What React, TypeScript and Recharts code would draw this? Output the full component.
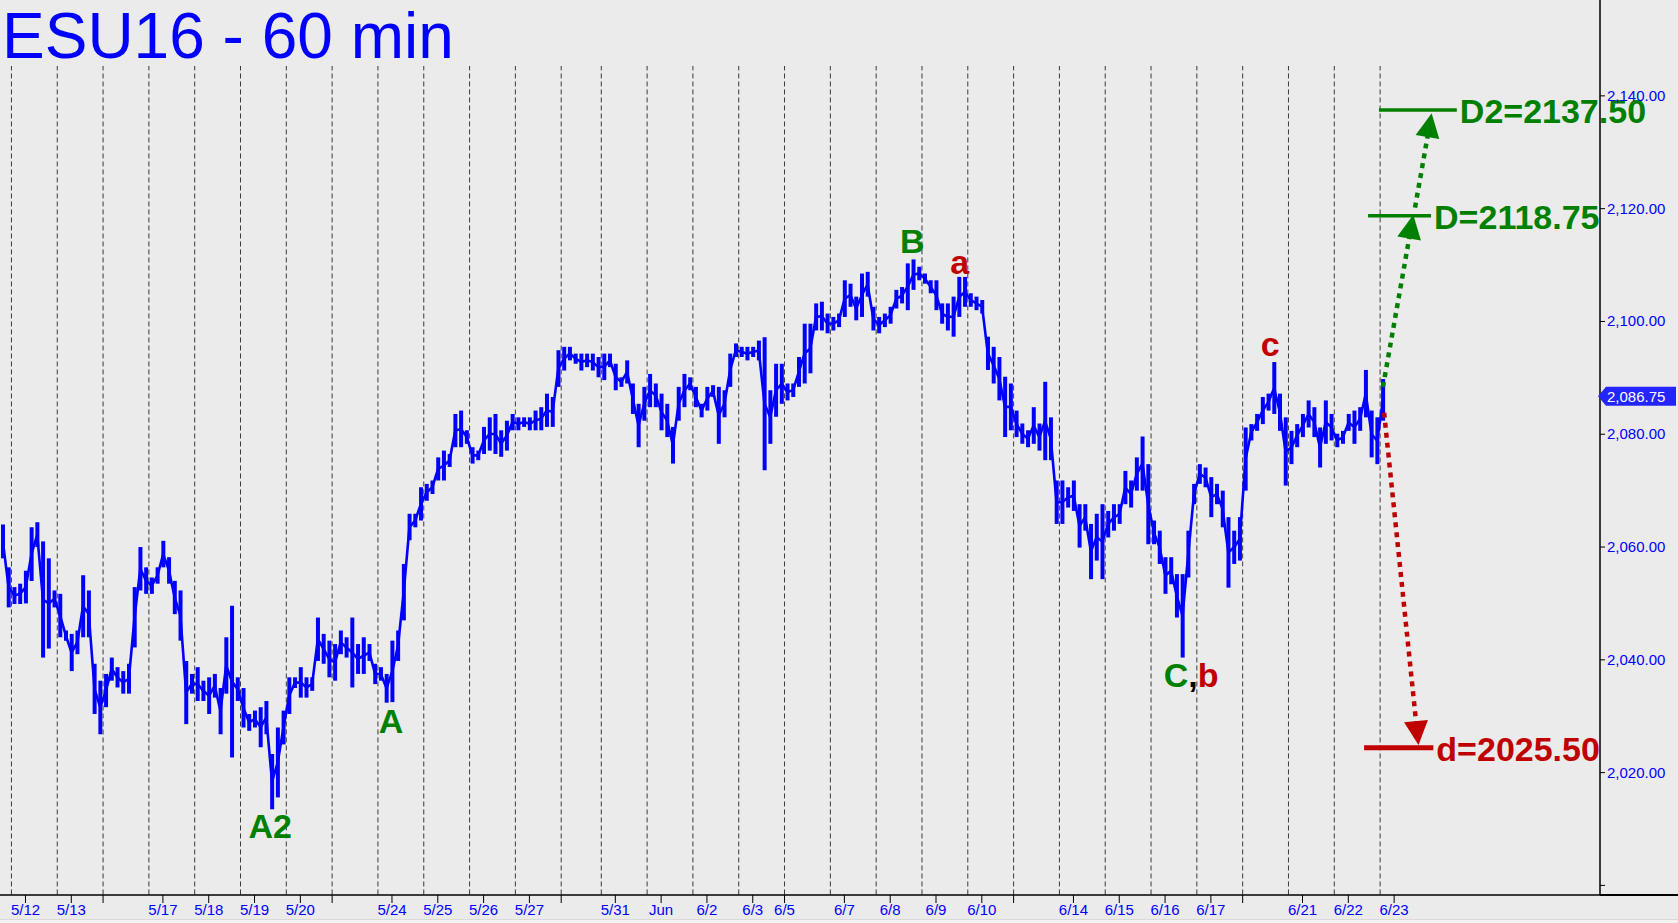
import React from 'react';
import { ComposedChart, Bar, Line, XAxis, YAxis, ReferenceLine, ReferenceDot } from 'recharts';

type Hl = [number, number];

// hourly lows/highs per session, sampled ~8 per session
const may11: Hl[] = [[2058, 2064], [2049.3, 2056.4]];
const may12: Hl[] = [[2049.9, 2052.9], [2049.9, 2053.5], [2050, 2055.8], [2054, 2063.5], [2060, 2064.4], [2040.4, 2061], [2042, 2058], [2049.3, 2052.3]];
const may13: Hl[] = [[2044, 2051.7], [2043.4, 2045.2], [2038, 2044.6], [2041, 2045.2], [2044, 2055], [2044, 2052.3], [2030.4, 2039.3], [2026.8, 2036.3]];
const may16: Hl[] = [[2031.6, 2037.5], [2036.3, 2040.4], [2035.1, 2038.7], [2034, 2038], [2034, 2039.3], [2042.2, 2052.9], [2052.3, 2060], [2051.7, 2056.4]];
const may17: Hl[] = [[2051.7, 2054.6], [2053.5, 2056.4], [2056.4, 2061.1], [2053.5, 2058.2], [2048.1, 2054], [2043.4, 2052.3], [2028.6, 2039.8], [2034, 2037.5]];
const may18: Hl[] = [[2032.7, 2038.7], [2032.7, 2036.3], [2030.4, 2036.9], [2033.3, 2037.5], [2026.8, 2035], [2034, 2044], [2022.7, 2049.6], [2032.7, 2036.9]];
const may19: Hl[] = [[2028, 2035], [2027.4, 2030.4], [2028, 2031], [2024.5, 2031.6], [2026.8, 2032.7], [2013.5, 2023.3], [2015.6, 2028], [2025, 2031]];
const may20: Hl[] = [[2030.4, 2036.9], [2035, 2036.9], [2033.3, 2038.7], [2033.3, 2036.9], [2034.5, 2036.9], [2039.8, 2047.5], [2039.3, 2044.6], [2036.9, 2043.4]];
const may23: Hl[] = [[2036.3, 2042.8], [2041, 2045.2], [2040.4, 2044], [2035.1, 2047.5], [2037.5, 2042.8], [2037.5, 2044], [2039.8, 2042.8], [2035.7, 2039.3]];
const may24: Hl[] = [[2036.3, 2038.7], [2032.4, 2037.5], [2032.5, 2043.4], [2039.8, 2045.2], [2047, 2057], [2061.2, 2065.9], [2063.5, 2065.9], [2064.7, 2070.6]];
const may25: Hl[] = [[2068.2, 2071.2], [2069.4, 2071.8], [2071.8, 2075.9], [2071.8, 2077.1], [2074.2, 2076.5], [2077.7, 2083.6], [2077.7, 2084.2], [2078.3, 2080.7]];
const may26: Hl[] = [[2074.8, 2077.7], [2075.4, 2077.1], [2076.5, 2081.3], [2077.1, 2083], [2076.5, 2083.6], [2076, 2080.7], [2077.1, 2082.4], [2080.7, 2083.6]];
const may27: Hl[] = [[2080.7, 2083], [2081.3, 2083], [2080.7, 2083], [2080.7, 2084.2], [2080.7, 2084.8], [2081.3, 2087.2], [2081.3, 2086.6], [2088.4, 2094.9]];
const may30: Hl[] = [[2091.3, 2095.5], [2093.1, 2095.5], [2092.5, 2094.3], [2091.3, 2094.3], [2091.9, 2094.3], [2091.3, 2094.3], [2090.1, 2093.7]];
const may31: Hl[] = [[2089.6, 2094.3], [2091.9, 2094.3], [2087.8, 2092.5], [2088.4, 2090.1], [2089, 2093.1], [2083.6, 2089], [2077.7, 2085.4], [2082.4, 2088.4]];
const jun1: Hl[] = [[2084.8, 2090.7], [2084.8, 2089], [2080.7, 2087.2], [2079.5, 2085.4], [2074.8, 2081.3], [2082.4, 2088.4], [2084.8, 2090.7], [2087.8, 2090.1]];
const jun2: Hl[] = [[2084.8, 2088.4], [2083, 2085.4], [2084.2, 2088.4], [2086.6, 2088.7], [2078.3, 2088.4], [2083, 2087.8], [2088.4, 2094.3], [2093.7, 2096.1]];
const jun3: Hl[] = [[2093.7, 2095.5], [2093.1, 2095.5], [2093.7, 2095.5], [2093.1, 2096.6], [2073.6, 2097.2], [2078.3, 2087.8], [2083.1, 2092.5], [2085.4, 2092.5]];
const jun6: Hl[] = [[2086, 2089], [2086.6, 2089], [2088.4, 2093.7], [2089, 2099.6], [2090.8, 2099.6], [2098.4, 2103.2], [2098.4, 2103.5], [2097.9, 2101.4]];
const jun7: Hl[] = [[2098.4, 2100.8], [2099, 2101.4], [2100.8, 2107.3], [2102.6, 2106.7], [2100.2, 2104.4], [2100.8, 2108.5], [2104.4, 2108.8], [2098.4, 2102.6]];
const jun8: Hl[] = [[2097.9, 2100.8], [2099, 2101.4], [2099.6, 2102.6], [2102.3, 2105.6], [2103.2, 2106.1], [2102, 2110.3], [2105.6, 2111], [2107.3, 2109.7]];
const jun9: Hl[] = [[2106.7, 2108.5], [2105, 2107.3], [2102, 2107.3], [2099.6, 2103.2], [2098.4, 2103.2], [2097.3, 2104.4], [2100.8, 2107.9], [2102.6, 2107.9]];
const jun10: Hl[] = [[2102.6, 2105], [2102, 2104.4], [2101.4, 2103.8], [2091.4, 2097.3], [2089, 2095.5], [2086, 2093.7], [2079.5, 2090.2], [2080.7, 2089]];
const jun13: Hl[] = [[2079.5, 2084.2], [2078.3, 2081.9], [2077.7, 2080.7], [2078.3, 2084.8], [2077.1, 2081.9], [2075.4, 2089.3], [2075.4, 2083], [2064.1, 2071.8]];
const jun14: Hl[] = [[2064.1, 2071.8], [2067, 2070.6], [2066.4, 2071.8], [2059.9, 2067.6], [2062.9, 2067.6], [2054.3, 2064.1], [2057.6, 2065.9], [2054.3, 2067.6]];
const jun15: Hl[] = [[2061.7, 2066.4], [2062.9, 2067.6], [2064.1, 2067.6], [2067.6, 2073.5], [2067, 2071.8], [2070, 2075.9], [2070, 2079.6], [2060.5, 2074.7]];
const jun16: Hl[] = [[2060.5, 2064.7], [2057, 2062.9], [2051.7, 2058.2], [2053.4, 2058.2], [2047.5, 2055.2], [2040.4, 2055.2], [2054.6, 2062.9], [2067.6, 2071.2]];
const jun17: Hl[] = [[2071.2, 2074.7], [2070.6, 2074.1], [2065.3, 2072.4], [2067.6, 2071.2], [2063.5, 2070], [2052.8, 2065.3], [2057, 2062.9], [2057.6, 2065.3]];
const jun20: Hl[] = [[2070, 2081.2], [2078.9, 2081.8], [2080.6, 2083.6], [2081.8, 2086.6], [2084.2, 2087.2], [2083.6, 2092.8], [2080.6, 2087.2], [2070.9, 2083]];
const jun21: Hl[] = [[2074.7, 2080.6], [2077.7, 2081.8], [2079.5, 2083.6], [2081.2, 2086], [2079.5, 2084.8], [2074.1, 2081.2], [2078.3, 2086], [2078.9, 2083.6]];
const jun22: Hl[] = [[2077.7, 2080.1], [2078.3, 2080.6], [2080.6, 2083.6], [2078.3, 2084.2], [2080.6, 2084.8], [2083, 2091.4], [2075.9, 2084.2], [2074.7, 2083]];
const jun23: Hl[] = [[2082.4, 2089.8]];

const sessionBars: Hl[][] = [
  may11, may12, may13, may16, may17, may18, may19, may20, may23, may24, may25, may26, may27, may30,
  may31, jun1, jun2, jun3, jun6, jun7, jun8, jun9, jun10, jun13, jun14, jun15, jun16, jun17, jun20,
  jun21, jun22, jun23,
];
const sessionLabels = [
  '', '5/12', '5/13', '', '5/17', '5/18', '5/19', '5/20', '', '5/24', '5/25', '5/26', '5/27', '',
  '5/31', 'Jun', '6/2', '6/3', '6/5', '6/7', '6/8', '6/9', '6/10', '', '6/14', '6/15', '6/16', '6/17', '',
  '6/21', '6/22', '6/23',
];
const labelLead: Record<string, number> = { '6/5': 0 };

const priceTicks = [2000, 2020, 2040, 2060, 2080, 2100, 2120, 2140];
const lastPrice = 2086.75;

const waveLabels = [
  { parts: [['A2', 'g']], x: 47.2, y: 2008.4 },
  { parts: [['A', 'g']], x: 68.3, y: 2027.0 },
  { parts: [['B', 'g']], x: 159.3, y: 2112.1 },
  { parts: [['a', 'r']], x: 167.6, y: 2108.5 },
  { parts: [['C', 'g'], [',', 'k'], ['b', 'r']], x: 208.0, y: 2035.2 },
  { parts: [['c', 'r']], x: 221.8, y: 2093.8 },
];

const targetTexts = ['D2=2137.50', 'D=2118.75', 'd=2025.50'];
const targetLevels = [2137.5, 2118.75, 2024.4];
const targetSpans: [number, number][] = [[240.8, 254.4], [238.9, 249.9], [238.2, 250.3]];
const targetColors = ['g', 'g', 'r'];

const arrows = [
  { from: [241.5, 2088.4], to: [246.8, 2118.9], c: 'g' },
  { from: [247.1, 2120.2], to: [250.0, 2136.9], c: 'g' },
  { from: [241.7, 2083.8], to: [247.7, 2024.9], c: 'r' },
];

const BLUE = '#0000ff';
const GREEN = '#008000';
const RED = '#c00000';
const colorOf: Record<string, string> = { g: GREEN, r: RED, k: '#000000' };
const FONT = '"Liberation Sans", Arial, Helvetica, sans-serif';

const X_MAX = 279.4;
const Y_MIN = 1998.3;
const Y_MAX = 2157;
const GRID_TOP = 2145.3;

const starts: number[] = [];
let count = 0;
sessionBars.forEach((s) => {
  starts.push(count);
  count += s.length;
});

const data = sessionBars.flat().map(([lo, hi], i) => ({ x: i + 0.5, range: [lo, hi], mid: (lo + hi) / 2 }));

const xTicks: { value: number; label: string }[] = [];
sessionLabels.forEach((label, i) => {
  if (i === 0) return;
  const lead = label === '' ? 0 : labelLead[label] ?? 2.45;
  xTicks.push({ value: starts[i] + lead, label });
});

const fmt = (v: number) => v.toLocaleString('en-US', { minimumFractionDigits: 2, maximumFractionDigits: 2 });

function XTick(props: any) {
  const { x, y, payload } = props;
  const t = xTicks.find((k) => Math.abs(k.value - payload.value) < 1e-6);
  if (!t || !t.label) return <g />;
  return (
    <text x={x} y={y + 10} textAnchor="middle" fill={BLUE} fontSize={15} fontFamily={FONT}>
      {t.label}
    </text>
  );
}

function YTick(props: any) {
  const { x, y, payload } = props;
  if (payload.value === 2000) return <g />;
  return (
    <text x={x} y={y + 5} textAnchor="start" fill={BLUE} fontSize={15} fontFamily={FONT}>
      {fmt(payload.value)}
    </text>
  );
}

function arrowShape(color: string) {
  return (p: any) => {
    const { x1, y1, x2, y2 } = p;
    const dx = x2 - x1;
    const dy = y2 - y1;
    const len = Math.sqrt(dx * dx + dy * dy) || 1;
    const ux = dx / len;
    const uy = dy / len;
    const head = 24;
    const half = 12;
    const bx = x2 - ux * head;
    const by = y2 - uy * head;
    return (
      <g>
        <line x1={x1} y1={y1} x2={x2 - ux * (head - 2)} y2={y2 - uy * (head - 2)} stroke={color} strokeWidth={4.5} strokeDasharray="5 5" />
        <polygon
          points={`${x2},${y2} ${bx - uy * half},${by + ux * half} ${bx + uy * half},${by - ux * half}`}
          fill={color}
        />
      </g>
    );
  };
}

function targetShape(color: string, text: string, width: number) {
  return (p: any) => {
    const { x1, y1, x2 } = p;
    return (
      <g>
        <line x1={x1} y1={y1} x2={x2} y2={y1} stroke={color} strokeWidth={width} />
        <text x={x2 + 3} y={y1 + 13} fill={color} fontSize={34} fontWeight="bold" fontFamily={FONT}>
          {text}
        </text>
      </g>
    );
  };
}

function PriceTag(p: any) {
  const { cx, cy } = p;
  return (
    <g>
      <polygon
        points={`${cx - 2},${cy} ${cx + 6},${cy - 9.5} ${cx + 76},${cy - 9.5} ${cx + 76},${cy + 9.5} ${cx + 6},${cy + 9.5}`}
        fill="#2424ff"
      />
      <text x={cx + 7} y={cy + 5.5} fill="#ffffff" fontSize={15} fontFamily={FONT}>
        {fmt(lastPrice)}
      </text>
    </g>
  );
}

export default function App() {
  return (
    <div style={{ position: 'absolute', left: 0, top: 0, width: 1678, height: 923, background: '#ebebeb', overflow: 'hidden' }}>
      <ComposedChart
        width={1678}
        height={923}
        data={data}
        margin={{ top: 0, right: 0, bottom: 0, left: 0 }}
        style={{ fontFamily: FONT }}
      >
        <XAxis
          dataKey="x"
          type="number"
          domain={[0, X_MAX]}
          ticks={xTicks.map((t) => t.value)}
          interval={0}
          height={28}
          tickSize={8}
          tickMargin={2}
          axisLine={{ stroke: '#000', strokeWidth: 1.5 }}
          tickLine={{ stroke: '#000' }}
          tick={<XTick />}
          allowDataOverflow
        />
        <YAxis
          orientation="right"
          type="number"
          domain={[Y_MIN, Y_MAX]}
          ticks={priceTicks}
          interval={0}
          width={78}
          tickSize={5}
          tickMargin={2}
          axisLine={{ stroke: '#000', strokeWidth: 1.5 }}
          tickLine={{ stroke: '#000' }}
          tick={<YTick />}
          allowDataOverflow
        />
        {starts.slice(1).map((s) => (
          <ReferenceLine
            key={`sep-${s}`}
            segment={[{ x: s, y: Y_MIN + 0.1 }, { x: s, y: GRID_TOP }]}
            stroke="#3a3a3a"
            strokeWidth={1}
            strokeDasharray="5 3"
            ifOverflow="visible"
          />
        ))}
        <Bar dataKey="range" fill={BLUE} barSize={4} isAnimationActive={false} />
        <Line dataKey="mid" type="linear" stroke={BLUE} strokeWidth={2.6} dot={false} activeDot={false} isAnimationActive={false} />
        {targetTexts.map((t, i) => (
          <ReferenceLine
            key={t}
            segment={[{ x: targetSpans[i][0], y: targetLevels[i] }, { x: targetSpans[i][1], y: targetLevels[i] }]}
            ifOverflow="visible"
            shape={targetShape(colorOf[targetColors[i]], t, targetColors[i] === 'r' ? 5 : 3.5)}
          />
        ))}
        {arrows.map((a, i) => (
          <ReferenceLine
            key={`arrow-${i}`}
            segment={[{ x: a.from[0], y: a.from[1] }, { x: a.to[0], y: a.to[1] }]}
            ifOverflow="visible"
            shape={arrowShape(colorOf[a.c])}
          />
        ))}
        {waveLabels.map((w, i) => (
          <ReferenceDot
            key={`wave-${i}`}
            x={w.x}
            y={w.y}
            r={0}
            ifOverflow="visible"
            shape={(p: any) => (
              <text x={p.cx} y={p.cy} textAnchor="middle" fontSize={34} fontWeight="bold" fontFamily={FONT}>
                {w.parts.map(([s, c], j) => (
                  <tspan key={j} fill={colorOf[c]}>
                    {s}
                  </tspan>
                ))}
              </text>
            )}
          />
        ))}
        <ReferenceDot x={X_MAX} y={lastPrice} r={0} ifOverflow="visible" shape={(p: any) => <PriceTag {...p} />} />
      </ComposedChart>
      <div style={{ position: 'absolute', left: 1600, top: 894, width: 78, height: 1.5, background: '#000' }} />
      <div
        style={{
          position: 'absolute',
          left: 0,
          top: 919,
          width: 1678,
          height: 4,
          background: '#f3f3f3',
          borderTop: '1px solid #dadada',
        }}
      />
      <div
        style={{
          position: 'absolute',
          left: 2,
          top: 4,
          fontSize: 64,
          lineHeight: '64px',
          color: BLUE,
          fontFamily: FONT,
          whiteSpace: 'nowrap',
        }}
      >
        ESU16 - 60 min
      </div>
    </div>
  );
}
